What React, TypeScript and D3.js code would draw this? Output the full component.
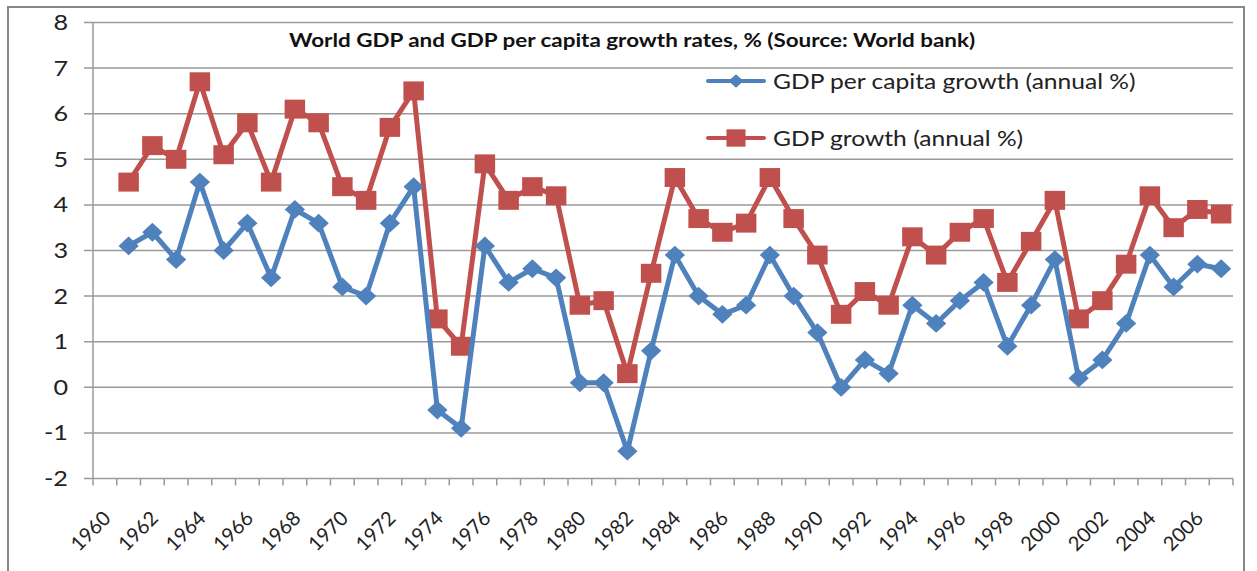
import React, { useEffect, useRef } from 'react';
import * as d3 from 'd3';

const years: number[] = d3.range(1960, 2008);
const dataYears: number[] = d3.range(1961, 2008);

const gdpPerCapita: number[] = [
  3.1, 3.4, 2.8, 4.5, 3.0, 3.6, 2.4, 3.9, 3.6, 2.2,
  2.0, 3.6, 4.4, -0.5, -0.9, 3.1, 2.3, 2.6, 2.4, 0.1,
  0.1, -1.4, 0.8, 2.9, 2.0, 1.6, 1.8, 2.9, 2.0, 1.2,
  0.0, 0.6, 0.3, 1.8, 1.4, 1.9, 2.3, 0.9, 1.8, 2.8,
  0.2, 0.6, 1.4, 2.9, 2.2, 2.7, 2.6,
];

const gdpGrowth: number[] = [
  4.5, 5.3, 5.0, 6.7, 5.1, 5.8, 4.5, 6.1, 5.8, 4.4,
  4.1, 5.7, 6.5, 1.5, 0.9, 4.9, 4.1, 4.4, 4.2, 1.8,
  1.9, 0.3, 2.5, 4.6, 3.7, 3.4, 3.6, 4.6, 3.7, 2.9,
  1.6, 2.1, 1.8, 3.3, 2.9, 3.4, 3.7, 2.3, 3.2, 4.1,
  1.5, 1.9, 2.7, 4.2, 3.5, 3.9, 3.8,
];

const yTicks: number[] = d3.range(-2, 9);
const xTickLabels: number[] = years.filter(y => y % 2 === 0);

const seriesNames = ['GDP per capita growth (annual %)', 'GDP growth (annual %)'];
const title = 'World GDP and GDP per capita growth rates, % (Source: World bank)';

const BLUE = '#4F81BD';
const RED = '#C0504D';
const GRID = '#9a9a9a';
const FONT = 'Lato, "Open Sans", sans-serif';
// the source image is a bit wider than tall, so text is stretched sideways
const SX = 1.2;

const App: React.FC = () => {
  const ref = useRef<SVGSVGElement | null>(null);

  useEffect(() => {
    if (!ref.current) return;
    const svg = d3.select(ref.current);
    svg.selectAll('*').remove();

    const margin = { top: 22.5, right: 24, bottom: 92.5, left: 93 };
    const W = 1257, H = 571;
    const width = W - margin.left - margin.right;
    const height = H - margin.top - margin.bottom;

    // outer frame
    svg.append('rect')
      .attr('x', 8).attr('y', 7)
      .attr('width', 1236).attr('height', 600)
      .attr('fill', 'white')
      .attr('stroke', '#888')
      .attr('stroke-width', 2);

    const g = svg.append('g')
      .attr('transform', `translate(${margin.left},${margin.top})`);

    const x = d3.scaleBand<number>().domain(years).range([0, width]).padding(0);
    const y = d3.scaleLinear().domain([-2, 8]).range([height, 0]);
    const cx = (yr: number) => (x(yr) as number) + x.bandwidth() / 2;

    // gridlines
    g.append('g')
      .selectAll('line')
      .data(yTicks)
      .join('line')
      .attr('x1', -9).attr('x2', width)
      .attr('y1', d => y(d)).attr('y2', d => y(d))
      .attr('stroke', GRID)
      .attr('stroke-width', 1.5);

    // y axis line
    g.append('line')
      .attr('x1', 0).attr('x2', 0)
      .attr('y1', 0).attr('y2', height)
      .attr('stroke', GRID).attr('stroke-width', 1.5);

    // x ticks at category boundaries
    const bounds = years.map(yr => x(yr) as number).concat([width]);
    g.append('g')
      .selectAll('line')
      .data(bounds)
      .join('line')
      .attr('x1', d => d).attr('x2', d => d)
      .attr('y1', height).attr('y2', height + 7)
      .attr('stroke', GRID).attr('stroke-width', 1.5);

    // y labels
    g.append('g')
      .selectAll('text')
      .data(yTicks)
      .join('text')
      .attr('transform', d => `translate(-25,${y(d)}) scale(${SX},1)`)
      .attr('dy', '0.36em')
      .attr('text-anchor', 'end')
      .attr('font-family', FONT)
      .attr('font-size', 21)
      .attr('fill', '#222')
      .text(d => d);

    // x labels
    g.append('g')
      .selectAll('text')
      .data(xTickLabels)
      .join('text')
      .attr('transform', d => `translate(${cx(d) + 7},${height + 41}) rotate(-45)`)
      .attr('text-anchor', 'end')
      .attr('font-family', FONT)
      .attr('font-size', 20)
      .attr('fill', '#222')
      .text(d => d);

    const line = d3.line<number>()
      .x((_, i) => cx(dataYears[i]))
      .y(d => y(d));

    const diamond = d3.symbol().type(d3.symbolDiamond2).size(225);
    const square = d3.symbol().type(d3.symbolSquare).size(360);

    // GDP growth
    g.append('path')
      .datum(gdpGrowth)
      .attr('fill', 'none')
      .attr('stroke', RED)
      .attr('stroke-width', 5)
      .attr('stroke-linejoin', 'round')
      .attr('d', line);
    g.append('g')
      .selectAll('path')
      .data(gdpGrowth)
      .join('path')
      .attr('transform', (d, i) => `translate(${cx(dataYears[i])},${y(d)}) scale(1.08,1)`)
      .attr('d', square)
      .attr('fill', RED);

    // GDP per capita
    g.append('path')
      .datum(gdpPerCapita)
      .attr('fill', 'none')
      .attr('stroke', BLUE)
      .attr('stroke-width', 5)
      .attr('stroke-linejoin', 'round')
      .attr('d', line);
    g.append('g')
      .selectAll('path')
      .data(gdpPerCapita)
      .join('path')
      .attr('transform', (d, i) => `translate(${cx(dataYears[i])},${y(d)}) scale(1.08,1)`)
      .attr('d', diamond)
      .attr('fill', BLUE);

    // title
    svg.append('text')
      .attr('transform', `translate(632,47) scale(${SX},1)`)
      .attr('text-anchor', 'middle')
      .attr('font-family', FONT)
      .attr('font-weight', 'bold')
      .attr('font-size', 18.7)
      .attr('fill', '#111')
      .text(title);

    // legend
    const legendDiamond = d3.symbol().type(d3.symbolDiamond2).size(120);
    const legendSquare = d3.symbol().type(d3.symbolSquare).size(300);
    const legend = svg.append('g');
    [0, 1].forEach(i => {
      const ly = i === 0 ? 81 : 138;
      const color = i === 0 ? BLUE : RED;
      legend.append('line')
        .attr('x1', 708).attr('x2', 764)
        .attr('y1', ly).attr('y2', ly)
        .attr('stroke', color).attr('stroke-width', 4)
        .attr('stroke-linecap', 'round');
      legend.append('path')
        .attr('transform', `translate(736,${ly}) scale(1.1,1)`)
        .attr('d', i === 0 ? legendDiamond : legendSquare)
        .attr('fill', color);
      legend.append('text')
        .attr('transform', `translate(773,${ly + 8}) scale(${SX},1)`)
        .attr('font-family', FONT)
        .attr('font-size', 20.5)
        .attr('fill', '#222')
        .text(seriesNames[i]);
    });
  }, []);

  return (
    <svg
      ref={ref}
      width={1257}
      height={571}
      style={{ position: 'absolute', left: 0, top: 0, background: 'white' }}
    />
  );
};

export default App;
